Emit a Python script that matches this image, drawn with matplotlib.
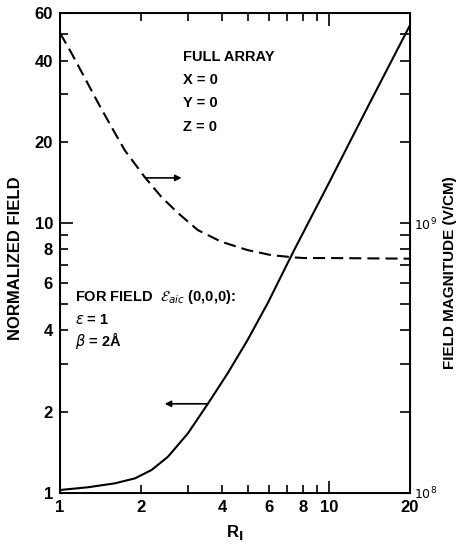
import matplotlib
matplotlib.use("Agg")
import matplotlib.pyplot as plt
from matplotlib.ticker import FixedLocator, FixedFormatter, NullFormatter

# ---------- data ----------
# solid curve: normalized field (left axis)
R_SOLID = [1.0, 1.27, 1.6, 1.9, 2.19, 2.52, 2.99, 3.54, 4.2, 4.98, 5.91,
           7.01, 7.42, 10.0, 11.2, 14.0, 20.0]
NORM_SOLID = [1.026, 1.05, 1.086, 1.133, 1.217, 1.363, 1.664, 2.136, 2.776, 3.687, 5.04,
              7.09, 7.94, 14.1, 17.6, 27.2, 54.1]

# dashed curve: field magnitude (right axis), plotted on the normalized scale
R_DASH = [1.0, 1.105, 1.238, 1.387, 1.554, 1.741, 2.065, 2.381, 2.743, 3.252, 3.972,
          4.983, 6.083, 7.42, 8.08, 10.0, 14.0, 20.0]
NORM_DASH = [50.6, 42.5, 34.4, 27.8, 22.7, 18.6, 14.8, 12.5, 10.9, 9.42, 8.53,
             7.94, 7.61, 7.46, 7.42, 7.42, 7.40, 7.38]

# decade ticks (long) and the in-between ticks (short)
DECADES = [1, 10]
DECADE_LABELS = ["1", "10"]
X_TICKS = [2, 3, 4, 5, 6, 7, 8, 9, 20]
X_LABELS = ["2", "", "4", "", "6", "", "8", "", "20"]
Y_TICKS = [2, 3, 4, 5, 6, 7, 8, 9, 20, 30, 40, 50, 60]
Y_LABELS = ["2", "", "4", "", "6", "", "8", "", "20", "", "40", "", "60"]
R_MAJOR = [1e8, 1e9]
R_MAJOR_LABELS = ["$10^8$", "$10^9$"]
R_TICKS = [2e8, 3e8, 4e8, 5e8, 6e8, 7e8, 8e8, 9e8, 2e9, 3e9, 4e9, 5e9]

FAMILY = ["Liberation Sans", "DejaVu Sans"]
BOLD = dict(fontweight="bold", family=FAMILY)

fig = plt.figure(figsize=(4.59, 5.46), dpi=100)
ax = fig.add_axes([60 / 459, 1 - 493 / 546, 350 / 459, 480 / 546])

ax.plot(R_SOLID, NORM_SOLID, color="black", lw=1.5)
ax.plot(R_DASH, NORM_DASH, color="black", lw=1.5, dashes=(5.8, 2.9))

ax.set_xscale("log")
ax.set_yscale("log")
ax.set_xlim(1, 20)
ax.set_ylim(1, 60)

for axis, ticks, labels in ((ax.xaxis, X_TICKS, X_LABELS), (ax.yaxis, Y_TICKS, Y_LABELS)):
    axis.set_major_locator(FixedLocator(DECADES))
    axis.set_major_formatter(FixedFormatter(DECADE_LABELS))
    axis.set_minor_locator(FixedLocator(ticks))
    axis.set_minor_formatter(FixedFormatter(labels))

ax.tick_params(which="both", direction="in", top=True, width=1.2, pad=5, labelsize=12)
ax.tick_params(which="major", length=9)
ax.tick_params(which="minor", length=6)
for lab in (ax.get_xticklabels() + ax.get_yticklabels()
            + ax.get_xticklabels(minor=True) + ax.get_yticklabels(minor=True)):
    lab.set_fontweight("bold")
    lab.set_family(FAMILY)
for s in ax.spines.values():
    s.set_linewidth(1.4)

ax2 = ax.twinx()
ax2.set_yscale("log")
ax2.set_ylim(1e8, 6e9)
ax2.yaxis.set_major_locator(FixedLocator(R_MAJOR))
ax2.yaxis.set_major_formatter(FixedFormatter(R_MAJOR_LABELS))
ax2.yaxis.set_minor_locator(FixedLocator(R_TICKS))
ax2.yaxis.set_minor_formatter(NullFormatter())
ax2.tick_params(which="both", direction="in", length=7, width=1.2, labelsize=9, pad=3)
for lab in ax2.get_yticklabels():
    lab.set_fontweight("bold")

ax.set_ylabel("NORMALIZED FIELD", fontsize=12, **BOLD)
ax.yaxis.set_label_coords(-0.105, 0.49)
ax2.set_ylabel("FIELD MAGNITUDE (V/CM)", fontsize=11, **BOLD)
ax2.yaxis.set_label_coords(1.094, 0.46)
ax.set_xlabel("R$_\\mathbf{I}$", fontsize=12, labelpad=6, **BOLD)

# curve markers: dashed -> right axis, solid -> left axis
arr = dict(arrowstyle="-|>", color="black", lw=1.2, mutation_scale=9, shrinkA=0, shrinkB=0)
ax.annotate("", xy=(2.83, 14.7), xytext=(2.08, 14.7), arrowprops=arr)
ax.annotate("", xy=(2.45, 2.14), xytext=(3.54, 2.14), arrowprops=arr)

tr = ax.transAxes
ax.text(0.351, 0.909, "FULL ARRAY", transform=tr, fontsize=10.5, va="center", **BOLD)
ax.text(0.351, 0.860, "X = 0", transform=tr, fontsize=10.5, va="center", **BOLD)
ax.text(0.351, 0.813, "Y = 0", transform=tr, fontsize=10.5, va="center", **BOLD)
ax.text(0.351, 0.763, "Z = 0", transform=tr, fontsize=10.5, va="center", **BOLD)

ax.text(0.043, 0.409, "FOR FIELD  $\\mathcal{E}_{aic}$ (0,0,0):", transform=tr,
        fontsize=10.5, va="center", **BOLD)
ax.text(0.043, 0.360, "$\\epsilon$ = 1", transform=tr, fontsize=10.5, va="center", **BOLD)
ax.text(0.043, 0.318, "$\\beta$ = 2Å", transform=tr, fontsize=10.5, va="center", **BOLD)

fig.savefig("out.png", dpi=100)
